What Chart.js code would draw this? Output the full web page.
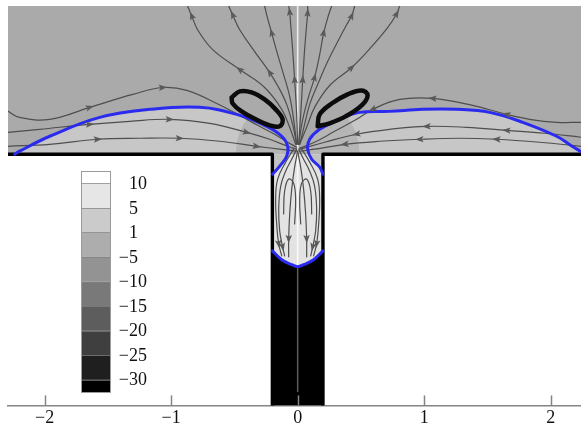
<!DOCTYPE html>
<html>
<head>
<meta charset="utf-8">
<script src="https://cdn.jsdelivr.net/npm/chart.js@4.4.1/dist/chart.umd.min.js"></script>
<style>
  html, body { margin: 0; padding: 0; background: #ffffff; }
  canvas { display: block; }
</style>
</head>
<body>
<canvas id="c" width="581" height="431"></canvas>
<script>
// Domain of the slot-and-channel geometry (wall at y = 0, channel half-width 0.2)
const xMin = -2.29, xMax = 2.24, yMin = -2, yMax = 1.18;

const xTicks = [-2, -1, 0, 1, 2];
const xTickLabels = ['\u22122', '\u22121', '0', '1', '2'];

// Contour levels shown on the colour bar, and the grey used between them
const levels = [10, 5, 1, -5, -10, -15, -20, -25, -30];
const levelShades = ['#ffffff', '#e6e6e6', '#cbcbcb', '#adadad', '#939393',
                     '#797979', '#5d5d5d', '#3f3f3f', '#1f1f1f', '#000000'];

// Solid walls
const wallLeft  = [[xMin, 0], [-0.2, 0], [-0.2, yMin]];
const wallRight = [[0.2, yMin], [0.2, 0], [xMax, 0]];

// Free interface (blue) on each side of the channel mouth
const interfaceLeft = [[-2.237, 0], [-2.198, 0.024], [-1.960, 0.143], [-1.565, 0.293],
  [-1.170, 0.357], [-0.775, 0.373], [-0.482, 0.317], [-0.245, 0.222], [-0.126, 0.143],
  [-0.079, 0.063], [-0.087, -0.016], [-0.142, -0.095], [-0.198, -0.159]];
const interfaceRight = [[2.24, 0.02], [2.16, 0.07], [2.047, 0.143], [1.779, 0.254],
  [1.518, 0.333], [1.257, 0.357], [0.988, 0.357], [0.727, 0.341], [0.490, 0.333],
  [0.332, 0.278], [0.174, 0.198], [0.095, 0.119], [0.079, 0.040], [0.111, -0.040],
  [0.174, -0.103], [0.2, -0.159]];
// Meniscus inside the channel
const meniscus = [[-0.2, -0.77], [-0.126, -0.841], [-0.047, -0.880], [0, -0.896],
  [0.047, -0.880], [0.126, -0.841], [0.2, -0.77]];

// Edge of the darker zone around the mouth
const mouthArcLeft  = [[-0.49, 0], [-0.482, 0.09], [-0.46, 0.17], [-0.43, 0.235], [-0.40, 0.284]];
const mouthArcRight = [[0.49, 0], [0.482, 0.09], [0.46, 0.17], [0.43, 0.235], [0.39, 0.298]];

// Vortex cores
const vortexLeft = [[-0.522, 0.452], [-0.458, 0.500], [-0.364, 0.492], [-0.261, 0.436],
  [-0.174, 0.357], [-0.119, 0.278], [-0.142, 0.222], [-0.221, 0.230], [-0.332, 0.278],
  [-0.443, 0.341], [-0.514, 0.404], [-0.522, 0.452]];
const vortexRight = [[0.158, 0.222], [0.174, 0.317], [0.269, 0.404], [0.395, 0.476],
  [0.506, 0.508], [0.553, 0.468], [0.506, 0.389], [0.379, 0.301], [0.253, 0.246],
  [0.158, 0.222]];

// Streamlines leaving the mouth upwards
const upwardLines = [
  [[-0.016, 0.079], [-0.063, 0.214], [-0.126, 0.357], [-0.261, 0.531], [-0.458, 0.674], [-0.672, 0.833], [-0.791, 0.991], [-0.838, 1.102], [-0.870, 1.18]],
  [[-0.008, 0.079], [-0.040, 0.238], [-0.087, 0.397], [-0.150, 0.531], [-0.221, 0.650], [-0.340, 0.817], [-0.458, 0.991], [-0.514, 1.110], [-0.545, 1.18]],
  [[-0.008, 0.079], [-0.032, 0.278], [-0.063, 0.460], [-0.111, 0.634], [-0.158, 0.793], [-0.206, 0.967], [-0.245, 1.110], [-0.261, 1.18]],
  [[0, 0.079], [-0.008, 0.317], [-0.024, 0.595], [-0.040, 0.833], [-0.055, 1.031], [-0.063, 1.134], [-0.071, 1.18]],
  [[0.008, 0.079], [0.024, 0.317], [0.040, 0.595], [0.055, 0.833], [0.071, 1.031], [0.079, 1.126], [0.079, 1.18]],
  [[0.008, 0.079], [0.040, 0.278], [0.087, 0.460], [0.134, 0.611], [0.174, 0.793], [0.206, 0.967], [0.245, 1.110], [0.269, 1.18]],
  [[0.016, 0.079], [0.055, 0.238], [0.095, 0.397], [0.158, 0.555], [0.237, 0.738], [0.316, 0.896], [0.387, 1.031], [0.427, 1.102], [0.451, 1.18]],
  [[0.016, 0.079], [0.071, 0.214], [0.134, 0.373], [0.253, 0.547], [0.427, 0.690], [0.585, 0.856], [0.711, 1.007], [0.783, 1.118], [0.806, 1.18]]
];
const upwardArrowAt = [[4, 7], [4, 7], [5], [2, 5], [2, 5], [3, 5], [7], [4, 7]];

// Streamlines running along the wall towards the mouth
const inflowLeft = [
  [[-2.29, 0.341], [-2.198, 0.293], [-1.960, 0.278], [-1.644, 0.373], [-1.304, 0.476], [-1.067, 0.531], [-0.877, 0.508], [-0.640, 0.404], [-0.458, 0.309], [-0.316, 0.230], [-0.182, 0.159], [-0.079, 0.095], [-0.008, 0.056]],
  [[-2.29, 0.174], [-2.040, 0.198], [-1.644, 0.238], [-1.328, 0.262], [-1.012, 0.278], [-0.696, 0.246], [-0.403, 0.174], [-0.221, 0.119], [-0.079, 0.063], [-0.008, 0.040]],
  [[-2.29, 0.063], [-1.960, 0.079], [-1.581, 0.119], [-1.249, 0.127], [-0.933, 0.127], [-0.617, 0.103], [-0.324, 0.063], [-0.142, 0.040], [-0.008, 0.024]]
];
const inflowLeftArrowAt = [[3, 5], [2, 4, 6], [2, 4, 6]];
const inflowRight = [
  [[2.24, 0.254], [2.047, 0.254], [1.834, 0.278], [1.652, 0.317], [1.383, 0.389], [1.067, 0.444], [0.806, 0.436], [0.593, 0.357], [0.466, 0.278], [0.292, 0.182], [0.134, 0.095], [0.016, 0.048]],
  [[2.24, 0.135], [1.953, 0.167], [1.652, 0.190], [1.336, 0.214], [1.020, 0.222], [0.727, 0.198], [0.466, 0.159], [0.213, 0.095], [0.016, 0.040]],
  [[2.24, 0.063], [1.913, 0.095], [1.573, 0.119], [1.281, 0.127], [0.964, 0.119], [0.648, 0.103], [0.372, 0.079], [0.134, 0.040], [0.016, 0.024]]
];
const inflowRightArrowAt = [[3, 5, 7], [2, 4, 6], [2, 4, 6]];

// Streamlines inside the channel
const channelLines = [
  [[-0.008, 0.040], [-0.047, -0.040], [-0.095, -0.135], [-0.134, -0.254], [-0.150, -0.436], [-0.142, -0.611], [-0.119, -0.738], [-0.103, -0.809]],
  [[0, 0.024], [-0.024, -0.103], [-0.047, -0.278], [-0.063, -0.476], [-0.071, -0.674], [-0.071, -0.817]],
  [[-0.032, 0.040], [-0.095, -0.063], [-0.158, -0.198], [-0.174, -0.357], [-0.166, -0.555], [-0.150, -0.714], [-0.126, -0.809]],
  [[-0.111, -0.476], [-0.103, -0.293], [-0.071, -0.198], [-0.032, -0.230], [-0.016, -0.357], [-0.024, -0.555]],
  [[0.008, 0.040], [0.047, -0.040], [0.095, -0.135], [0.134, -0.254], [0.150, -0.436], [0.142, -0.611], [0.119, -0.738], [0.103, -0.809]],
  [[0, 0.024], [0.024, -0.103], [0.047, -0.278], [0.063, -0.476], [0.071, -0.674], [0.071, -0.817]],
  [[0.032, 0.040], [0.095, -0.063], [0.158, -0.198], [0.174, -0.357], [0.166, -0.555], [0.150, -0.714], [0.126, -0.809]],
  [[0.111, -0.476], [0.103, -0.293], [0.071, -0.198], [0.032, -0.230], [0.016, -0.357], [0.024, -0.555]]
];
const channelArrowAt = [[6], [4], [5], [], [6], [4], [5], []];

// ---------------------------------------------------------------------------
const toXY = pts => pts.map(([x, y]) => ({ x, y }));

function region(pts, color) {
  return { data: toXY(pts), showLine: true, fill: 'shape', backgroundColor: color,
           borderWidth: 0, pointRadius: 0, tension: 0 };
}
function stroke(pts, color, width, tension) {
  return { data: toXY(pts), showLine: true, fill: false, borderColor: color,
           borderWidth: width, pointRadius: 0, tension: tension, borderCapStyle: 'round',
           borderJoinStyle: 'round' };
}
function stream(pts, arrows) {
  const d = stroke(pts, '#4e4e4e', 1.2, 0.4);
  d.arrows = arrows;
  return d;
}

const datasets = [];
// filled zones, back to front
datasets.push(region([[xMin, 0], [xMax, 0], [xMax, yMax], [xMin, yMax]], '#aaaaaa'));
datasets.push(region(interfaceLeft.slice(0, 10).concat([[-0.085, 0]]), '#c7c7c7'));
datasets.push(region([[xMax, 0]].concat(interfaceRight.slice(0, 13), [[0.085, 0]]), '#c7c7c7'));
datasets.push(region(mouthArcLeft.concat(interfaceLeft.slice(7, 10), [[-0.085, 0]]), '#b5b5b5'));
datasets.push(region(mouthArcRight.concat(interfaceRight.slice(9, 13), [[0.085, 0]]), '#b5b5b5'));
datasets.push(region([[-0.2, 0], [0.2, 0]].concat(meniscus.slice().reverse()), '#e3e3e3'));
datasets.push(region([[-0.2, 0], [-0.085, 0]].concat(interfaceLeft.slice(10)), '#c2c2c2'));
datasets.push(region([[0.2, 0], [0.085, 0]].concat(interfaceRight.slice(13)), '#c2c2c2'));
datasets.push(region(meniscus.concat([[0.2, yMin], [-0.2, yMin]]), '#000000'));
// symmetry axis
datasets.push(stroke([[0, yMax], [0, -0.89]], 'rgba(255,255,255,0.8)', 1.6, 0));
datasets.push(stroke([[0, -0.9], [0, -1.89]], '#5c5c5c', 1.5, 0));
// streamlines
upwardLines.forEach((l, i) => datasets.push(stream(l, upwardArrowAt[i])));
inflowLeft.forEach((l, i) => datasets.push(stream(l, inflowLeftArrowAt[i])));
inflowRight.forEach((l, i) => datasets.push(stream(l, inflowRightArrowAt[i])));
channelLines.forEach((l, i) => datasets.push(stream(l, channelArrowAt[i])));
// walls
datasets.push(stroke(wallLeft, '#000000', 3.4, 0));
datasets.push(stroke(wallRight, '#000000', 3.4, 0));
// interfaces
datasets.push(stroke(interfaceLeft, '#2b2bf0', 3, 0.4));
datasets.push(stroke(interfaceRight, '#2b2bf0', 3, 0.4));
datasets.push(stroke(meniscus, '#2b2bf0', 3, 0.4));
// vortex cores
datasets.push(stroke(vortexLeft, '#0c0c0c', 4.5, 0.4));
datasets.push(stroke(vortexRight, '#0c0c0c', 4.5, 0.4));

datasets.forEach((d, i) => { d.order = datasets.length - i; });

const arrowheads = {
  id: 'arrowheads',
  afterDatasetsDraw(chart) {
    const ctx = chart.ctx;
    ctx.save();
    chart.data.datasets.forEach((ds, i) => {
      if (!ds.arrows || !ds.arrows.length) return;
      const pts = chart.getDatasetMeta(i).data;
      ds.arrows.forEach(k => {
        const p = pts[k], a = pts[k - 1] || p, b = pts[k + 1] || p;
        const ang = Math.atan2(b.y - a.y, b.x - a.x);
        ctx.save();
        ctx.translate(p.x, p.y);
        ctx.rotate(ang);
        ctx.beginPath();
        ctx.moveTo(4.5, 0);
        ctx.lineTo(-4, -3.2);
        ctx.lineTo(-2.2, 0);
        ctx.lineTo(-4, 3.2);
        ctx.closePath();
        ctx.fillStyle = '#5a5a5a';
        ctx.fill();
        ctx.restore();
      });
    });
    ctx.restore();
  }
};

const tickMarks = {
  id: 'tickMarks',
  afterDraw(chart) {
    const ctx = chart.ctx, sx = chart.scales.x, bottom = chart.chartArea.bottom;
    ctx.save();
    ctx.strokeStyle = '#858585';
    ctx.lineWidth = 1.5;
    xTicks.forEach(v => {
      const px = Math.round(sx.getPixelForValue(v)) + 0.5;
      ctx.beginPath();
      ctx.moveTo(px, bottom);
      ctx.lineTo(px, bottom - 10);
      ctx.stroke();
    });
    ctx.restore();
  }
};

const colorBar = {
  id: 'colorBar',
  afterDraw(chart) {
    const ctx = chart.ctx;
    const left = 81, top = 171, width = 29, height = 221;
    const step = height / levels.length;
    ctx.save();
    levelShades.forEach((c, i) => {
      const y0 = i === 0 ? top : top + step / 2 + (i - 1) * step;
      const y1 = i === levelShades.length - 1 ? top + height : top + step / 2 + i * step;
      ctx.fillStyle = c;
      ctx.fillRect(left, y0, width, y1 - y0);
    });
    ctx.strokeStyle = 'rgba(128,128,128,0.7)';
    ctx.lineWidth = 1;
    levels.forEach((v, i) => {
      const y = Math.round(top + step / 2 + i * step) + 0.5;
      ctx.beginPath();
      ctx.moveTo(left, y);
      ctx.lineTo(left + width, y);
      ctx.stroke();
    });
    ctx.strokeStyle = '#9a9a9a';
    ctx.strokeRect(left + 0.5, top + 0.5, width, height);
    ctx.font = '18px "Liberation Serif", "Times New Roman", serif';
    ctx.fillStyle = '#111111';
    ctx.textBaseline = 'middle';
    levels.forEach((v, i) => {
      const y = top + step / 2 + i * step + 1;
      ctx.textAlign = 'left';
      ctx.fillText(String(Math.abs(v)), 129, y);
      if (v < 0) {
        ctx.textAlign = 'right';
        ctx.fillText('\u2212', 129, y);
      }
    });
    ctx.restore();
  }
};

new Chart(document.getElementById('c'), {
  type: 'scatter',
  data: { datasets },
  options: {
    responsive: false,
    animation: false,
    events: [],
    layout: { padding: { left: 8, right: 0, top: 6, bottom: 0 } },
    plugins: { legend: { display: false }, tooltip: { enabled: false } },
    scales: {
      x: {
        type: 'linear', min: xMin, max: xMax,
        afterBuildTicks: s => { s.ticks = xTicks.map(v => ({ value: v })); },
        ticks: {
          callback: (v, i) => xTickLabels[i],
          font: { family: '"Liberation Serif", "Times New Roman", serif', size: 18 },
          color: '#111111', padding: 2, maxRotation: 0, autoSkip: false
        },
        grid: { display: false, drawTicks: false },
        border: { display: true, color: '#858585', width: 1.5 }
      },
      y: { type: 'linear', min: yMin, max: yMax, display: false }
    }
  },
  plugins: [arrowheads, tickMarks, colorBar]
});
</script>
</body>
</html>
